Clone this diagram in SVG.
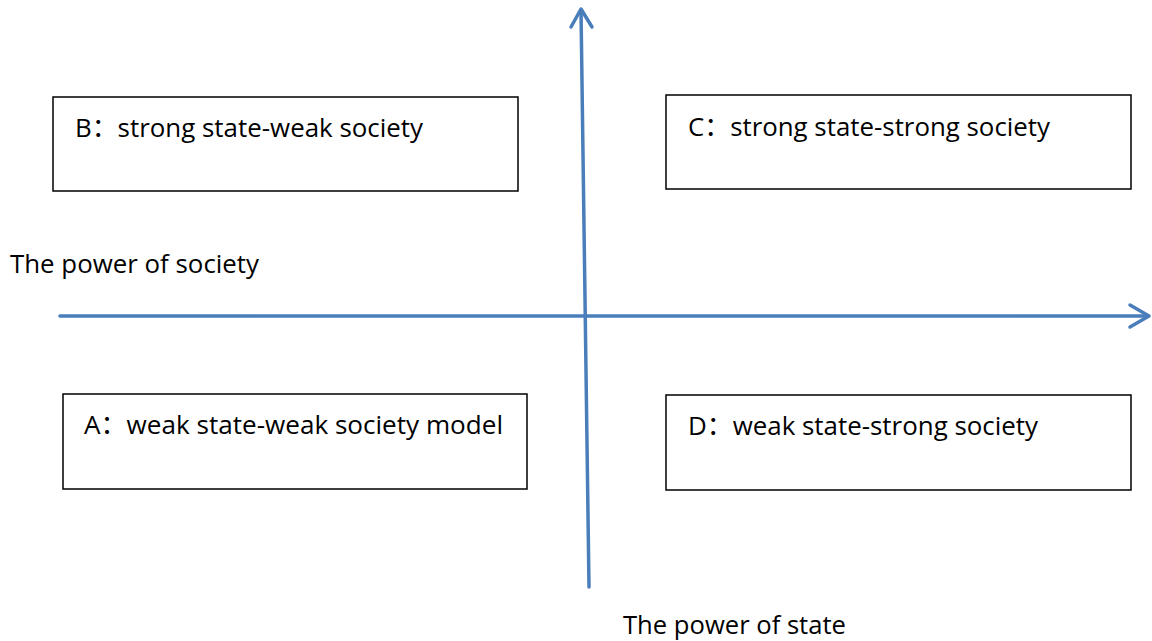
<svg xmlns="http://www.w3.org/2000/svg" width="1152" height="641" viewBox="0 0 1152 641">
<style>
.box{fill:#fff;stroke:#000;stroke-width:1.5}
.t{font-family:"Open Sans","Noto Sans CJK SC",sans-serif;font-size:26px;fill:#000}
.ax{fill:none;stroke:#4A7EBB;stroke-width:3.5;stroke-linecap:round;stroke-linejoin:round}
</style>
<rect width="1152" height="641" fill="#fff"/>
<g id="nodeB"><rect class="box" x="53" y="97" width="465" height="94"/><text class="t" x="75" y="137" textLength="348" lengthAdjust="spacingAndGlyphs">B：strong state-weak society</text></g>
<g id="nodeC"><rect class="box" x="666" y="95" width="465" height="94"/><text class="t" x="688" y="136" textLength="362" lengthAdjust="spacingAndGlyphs">C：strong state-strong society</text></g>
<g id="nodeA"><rect class="box" x="63" y="394" width="464" height="95"/><text class="t" x="84" y="434" textLength="419" lengthAdjust="spacingAndGlyphs">A：weak state-weak society model</text></g>
<g id="nodeD"><rect class="box" x="666" y="395" width="465" height="95"/><text class="t" x="688" y="435" textLength="350" lengthAdjust="spacingAndGlyphs">D：weak state-strong society</text></g>
<g id="labels">
<text class="t" x="10" y="273" textLength="249" lengthAdjust="spacingAndGlyphs">The power of society</text>
<text class="t" x="623" y="634" textLength="223" lengthAdjust="spacingAndGlyphs">The power of state</text>
</g>
<g id="connectors">
<line class="ax" x1="60" y1="316" x2="1148" y2="316"/>
<polyline class="ax" points="1130,305 1149,316 1130,327"/>
<line class="ax" x1="589" y1="587" x2="581" y2="10"/>
<polyline class="ax" points="571,27 581,9 592,27"/>
</g>
</svg>
